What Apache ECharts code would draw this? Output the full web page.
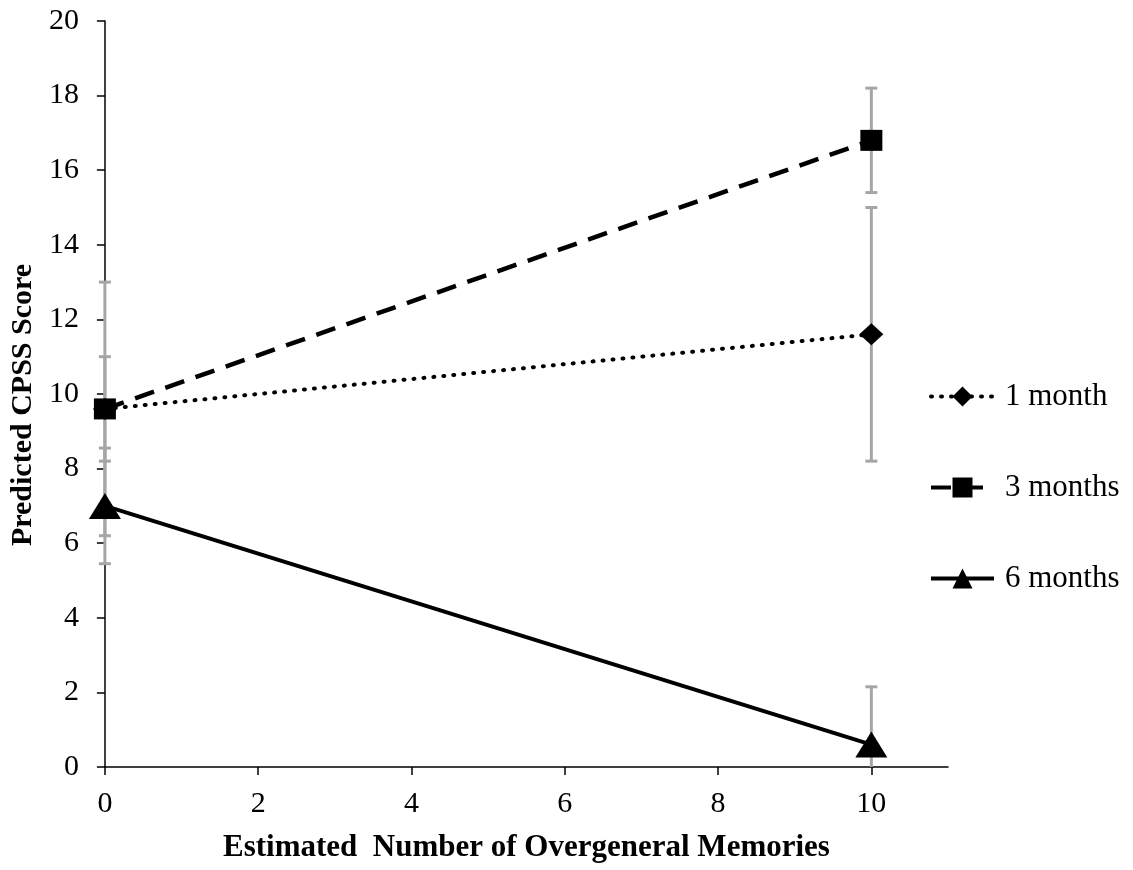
<!DOCTYPE html>
<html><head><meta charset="utf-8">
<script src="https://cdn.jsdelivr.net/npm/echarts@6/dist/echarts.min.js"></script>
<style>html,body{margin:0;padding:0;background:#fff}#c{width:1133px;height:870px}</style>
</head><body><div id="c"></div>
<script>
const xValues = [0, 10];
const seriesNames = ['1 month', '3 months', '6 months'];
const month1 = [9.6, 11.6];
const month3 = [9.6, 16.8];
const month6 = [7.0, 0.6];
const err1 = [3.4, 3.4];
const err3 = [1.4, 1.4];
const err6 = [1.55, 1.55];
const xTicks = [0, 2, 4, 6, 8, 10];

const font = '"Liberation Serif", "Times New Roman", serif';
const chart = echarts.init(document.getElementById('c'));

function pts(vals) { return xValues.map((x, i) => [x, vals[i]]); }
function errData(vals, errs) { return xValues.map((x, i) => [x, vals[i] - errs[i], vals[i] + errs[i]]); }

function errSeries(vals, errs) {
  return {
    type: 'custom', silent: true, z: 1,
    data: errData(vals, errs),
    encode: { x: 0, y: [1, 2] },
    renderItem: function (params, api) {
      const x = api.value(0);
      const lo = Math.max(api.value(1), 0);
      const hi = api.value(2);
      const pLo = api.coord([x, lo]);
      const pHi = api.coord([x, hi]);
      const cw = 6;
      const style = { stroke: '#a6a6a6', lineWidth: 3 };
      const children = [
        { type: 'line', shape: { x1: pLo[0], y1: pLo[1], x2: pHi[0], y2: pHi[1] }, style: style },
        { type: 'line', shape: { x1: pHi[0] - cw, y1: pHi[1], x2: pHi[0] + cw, y2: pHi[1] }, style: style }
      ];
      if (api.value(1) >= 0) {
        children.push({ type: 'line', shape: { x1: pLo[0] - cw, y1: pLo[1], x2: pLo[0] + cw, y2: pLo[1] }, style: style });
      }
      return { type: 'group', children: children };
    }
  };
}

const option = {
  animation: false,
  backgroundColor: '#fff',
  textStyle: { fontFamily: font },
  grid: { left: 103, right: 185, top: 21, bottom: 103, containLabel: false },
  legend: {
    orient: 'vertical', left: 924, top: 376, itemGap: 60,
    itemWidth: 63, itemHeight: 25,
    data: seriesNames,
    lineStyle: { width: 4 },
    textStyle: { fontFamily: font, fontSize: 31, color: '#000', padding: [0, 0, 0, 6] }
  },
  xAxis: {
    type: 'value', min: 0, max: 11,
    name: 'Estimated  Number of Overgeneral Memories',
    nameLocation: 'middle', nameGap: 65,
    nameTextStyle: { fontFamily: font, fontSize: 31, fontWeight: 'bold', color: '#000' },
    axisLine: { onZero: false, lineStyle: { color: '#000', width: 1.5 } },
    axisTick: { show: true, length: 8, lineStyle: { color: '#000', width: 1.5 }, customValues: xTicks },
    axisLabel: { fontFamily: font, fontSize: 30, color: '#000', margin: 22, customValues: xTicks },
    splitLine: { show: false }
  },
  yAxis: {
    type: 'value', min: 0, max: 20, interval: 2,
    name: 'Predicted CPSS Score',
    nameLocation: 'middle', nameGap: 60, nameRotate: 90,
    nameTextStyle: { fontFamily: font, fontSize: 30, fontWeight: 'bold', color: '#000', padding: [0, 22, 0, 0] },
    axisLine: { show: true, lineStyle: { color: '#000', width: 1.5 } },
    axisTick: { show: true, length: 8, lineStyle: { color: '#000', width: 1.5 } },
    axisLabel: { fontFamily: font, fontSize: 30, color: '#000', margin: 26 },
    splitLine: { show: false }
  },
  series: [
    errSeries(month1, err1),
    errSeries(month3, err3),
    errSeries(month6, err6),
    {
      name: seriesNames[0], type: 'line', z: 3, data: pts(month1),
      symbol: 'diamond', symbolSize: [24, 22],
      itemStyle: { color: '#000' },
      lineStyle: { color: '#000', width: 4, type: [1, 9], cap: 'round' }
    },
    {
      name: seriesNames[1], type: 'line', z: 4, data: pts(month3),
      symbol: 'rect', symbolSize: [22, 21],
      itemStyle: { color: '#000' },
      lineStyle: { color: '#000', width: 4.5, type: [20, 12] }
    },
    {
      name: seriesNames[2], type: 'line', z: 5, data: pts(month6),
      symbol: 'triangle', symbolSize: [32, 26],
      itemStyle: { color: '#000' },
      lineStyle: { color: '#000', width: 4 }
    }
  ]
};
chart.setOption(option);
</script></body></html>
